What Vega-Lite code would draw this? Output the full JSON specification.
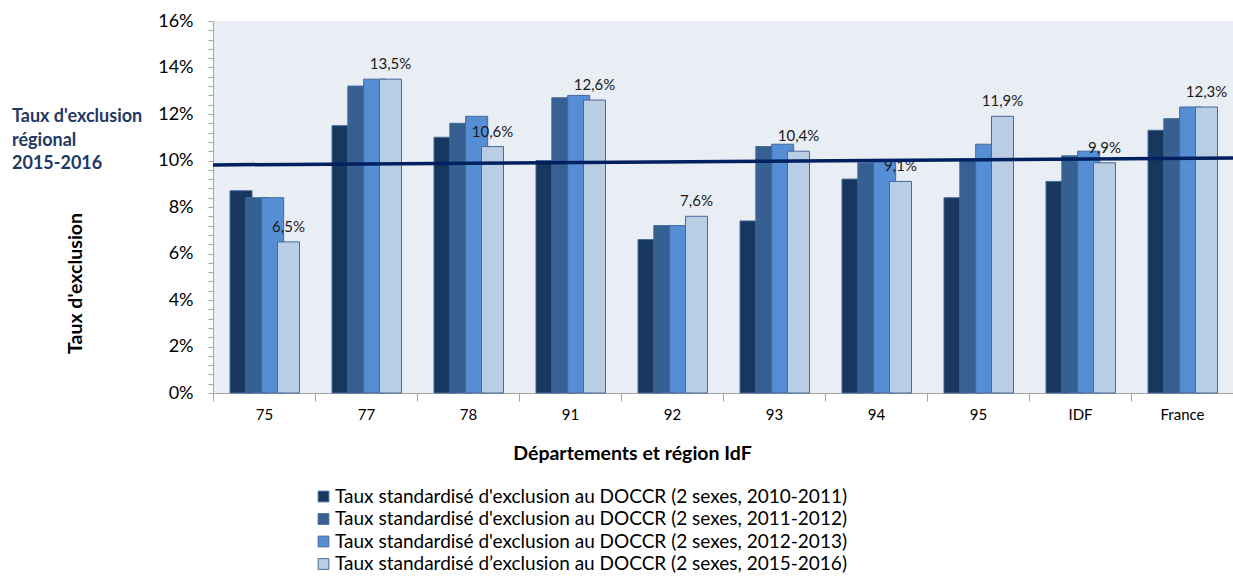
{
  "$schema": "https://vega.github.io/schema/vega-lite/v6.json",
  "autosize": {"type": "none"},
  "width": 1020,
  "height": 372,
  "padding": {"left": 213, "top": 21, "right": 0, "bottom": 191},
  "background": "#FFFFFF",
  "config": {
    "locale": {"number": {"decimal": ",", "thousands": " ", "grouping": [3], "currency": ["", " €"]}},
    "font": "Lato",
    "view": {"fill": "#E9EDF4", "stroke": null}
  },
  "title": {
    "text": ["Taux d'exclusion", "régional", "2015-2016"],
    "orient": "top",
    "anchor": "start",
    "frame": "group",
    "font": "Lato",
    "fontWeight": "bold",
    "fontSize": 18,
    "color": "#1F3864",
    "lineHeight": 23.5,
    "dx": -201,
    "dy": 161,
    "offset": 0
  },
  "datasets": {
    "bars": [
      {"dept": "75", "serie": "Taux standardisé d'exclusion au DOCCR (2 sexes, 2010-2011)", "k": 1, "v": 0.087},
      {"dept": "77", "serie": "Taux standardisé d'exclusion au DOCCR (2 sexes, 2010-2011)", "k": 1, "v": 0.115},
      {"dept": "78", "serie": "Taux standardisé d'exclusion au DOCCR (2 sexes, 2010-2011)", "k": 1, "v": 0.110},
      {"dept": "91", "serie": "Taux standardisé d'exclusion au DOCCR (2 sexes, 2010-2011)", "k": 1, "v": 0.100},
      {"dept": "92", "serie": "Taux standardisé d'exclusion au DOCCR (2 sexes, 2010-2011)", "k": 1, "v": 0.066},
      {"dept": "93", "serie": "Taux standardisé d'exclusion au DOCCR (2 sexes, 2010-2011)", "k": 1, "v": 0.074},
      {"dept": "94", "serie": "Taux standardisé d'exclusion au DOCCR (2 sexes, 2010-2011)", "k": 1, "v": 0.092},
      {"dept": "95", "serie": "Taux standardisé d'exclusion au DOCCR (2 sexes, 2010-2011)", "k": 1, "v": 0.084},
      {"dept": "IDF", "serie": "Taux standardisé d'exclusion au DOCCR (2 sexes, 2010-2011)", "k": 1, "v": 0.091},
      {"dept": "France", "serie": "Taux standardisé d'exclusion au DOCCR (2 sexes, 2010-2011)", "k": 1, "v": 0.113},
      {"dept": "75", "serie": "Taux standardisé d'exclusion au DOCCR (2 sexes, 2011-2012)", "k": 2, "v": 0.084},
      {"dept": "77", "serie": "Taux standardisé d'exclusion au DOCCR (2 sexes, 2011-2012)", "k": 2, "v": 0.132},
      {"dept": "78", "serie": "Taux standardisé d'exclusion au DOCCR (2 sexes, 2011-2012)", "k": 2, "v": 0.116},
      {"dept": "91", "serie": "Taux standardisé d'exclusion au DOCCR (2 sexes, 2011-2012)", "k": 2, "v": 0.127},
      {"dept": "92", "serie": "Taux standardisé d'exclusion au DOCCR (2 sexes, 2011-2012)", "k": 2, "v": 0.072},
      {"dept": "93", "serie": "Taux standardisé d'exclusion au DOCCR (2 sexes, 2011-2012)", "k": 2, "v": 0.106},
      {"dept": "94", "serie": "Taux standardisé d'exclusion au DOCCR (2 sexes, 2011-2012)", "k": 2, "v": 0.099},
      {"dept": "95", "serie": "Taux standardisé d'exclusion au DOCCR (2 sexes, 2011-2012)", "k": 2, "v": 0.100},
      {"dept": "IDF", "serie": "Taux standardisé d'exclusion au DOCCR (2 sexes, 2011-2012)", "k": 2, "v": 0.102},
      {"dept": "France", "serie": "Taux standardisé d'exclusion au DOCCR (2 sexes, 2011-2012)", "k": 2, "v": 0.118},
      {"dept": "75", "serie": "Taux standardisé d'exclusion au DOCCR (2 sexes, 2012-2013)", "k": 3, "v": 0.084},
      {"dept": "77", "serie": "Taux standardisé d'exclusion au DOCCR (2 sexes, 2012-2013)", "k": 3, "v": 0.135},
      {"dept": "78", "serie": "Taux standardisé d'exclusion au DOCCR (2 sexes, 2012-2013)", "k": 3, "v": 0.119},
      {"dept": "91", "serie": "Taux standardisé d'exclusion au DOCCR (2 sexes, 2012-2013)", "k": 3, "v": 0.128},
      {"dept": "92", "serie": "Taux standardisé d'exclusion au DOCCR (2 sexes, 2012-2013)", "k": 3, "v": 0.072},
      {"dept": "93", "serie": "Taux standardisé d'exclusion au DOCCR (2 sexes, 2012-2013)", "k": 3, "v": 0.107},
      {"dept": "94", "serie": "Taux standardisé d'exclusion au DOCCR (2 sexes, 2012-2013)", "k": 3, "v": 0.100},
      {"dept": "95", "serie": "Taux standardisé d'exclusion au DOCCR (2 sexes, 2012-2013)", "k": 3, "v": 0.107},
      {"dept": "IDF", "serie": "Taux standardisé d'exclusion au DOCCR (2 sexes, 2012-2013)", "k": 3, "v": 0.104},
      {"dept": "France", "serie": "Taux standardisé d'exclusion au DOCCR (2 sexes, 2012-2013)", "k": 3, "v": 0.123},
      {"dept": "75", "serie": "Taux standardisé d’exclusion au DOCCR (2 sexes, 2015-2016)", "k": 4, "v": 0.065},
      {"dept": "77", "serie": "Taux standardisé d’exclusion au DOCCR (2 sexes, 2015-2016)", "k": 4, "v": 0.135},
      {"dept": "78", "serie": "Taux standardisé d’exclusion au DOCCR (2 sexes, 2015-2016)", "k": 4, "v": 0.106},
      {"dept": "91", "serie": "Taux standardisé d’exclusion au DOCCR (2 sexes, 2015-2016)", "k": 4, "v": 0.126},
      {"dept": "92", "serie": "Taux standardisé d’exclusion au DOCCR (2 sexes, 2015-2016)", "k": 4, "v": 0.076},
      {"dept": "93", "serie": "Taux standardisé d’exclusion au DOCCR (2 sexes, 2015-2016)", "k": 4, "v": 0.104},
      {"dept": "94", "serie": "Taux standardisé d’exclusion au DOCCR (2 sexes, 2015-2016)", "k": 4, "v": 0.091},
      {"dept": "95", "serie": "Taux standardisé d’exclusion au DOCCR (2 sexes, 2015-2016)", "k": 4, "v": 0.119},
      {"dept": "IDF", "serie": "Taux standardisé d’exclusion au DOCCR (2 sexes, 2015-2016)", "k": 4, "v": 0.099},
      {"dept": "France", "serie": "Taux standardisé d’exclusion au DOCCR (2 sexes, 2015-2016)", "k": 4, "v": 0.123}
    ],
    "regional": [
      {"t": 0, "v": 0.0981},
      {"t": 1, "v": 0.1011}
    ]
  },
  "encoding": {
    "y": {
      "field": "v", "type": "quantitative",
      "scale": {"domain": [0, 0.16], "nice": false},
      "axis": {
        "title": "Taux d'exclusion",
        "values": [0,0.004,0.008,0.012,0.016,0.02,0.024,0.028,0.032,0.036,0.04,0.044,0.048,0.052,0.056,0.06,0.064,0.068,0.072,0.076,0.08,0.084,0.088,0.092,0.096,0.1,0.104,0.108,0.112,0.116,0.12,0.124,0.128,0.132,0.136,0.14,0.144,0.148,0.152,0.156,0.16],
        "format": ".0%",
        "labelExpr": "abs(datum.value * 50 - round(datum.value * 50)) < 0.001 ? datum.label : ''",
        "labelOverlap": false,
        "labelFont": "Lato", "labelFontSize": 18, "labelColor": "#000000",
        "labelPadding": 15,
        "tickSize": 5, "tickColor": "#A6A6A6", "domainColor": "#A6A6A6",
        "grid": false,
        "titleFont": "Lato", "titleFontSize": 19.5, "titleFontWeight": "bold", "titleColor": "#000000",
        "titleX": -138, "titleY": 262, "titleAngle": -90, "titleAlign": "center", "titleBaseline": "middle"
      }
    }
  },
  "layer": [
    {
      "data": {"name": "bars"},
      "encoding": {
        "x": {
          "field": "dept", "type": "nominal", "sort": null,
          "scale": {"paddingInner": 0, "paddingOuter": 0},
          "axis": {
            "title": "Départements et région IdF",
            "labelAngle": 0,
            "labelFont": "Lato", "labelFontSize": 15, "labelColor": "#000000",
            "labelPadding": 6,
            "tickBand": "extent", "tickSize": 8, "tickColor": "#A6A6A6",
            "domainColor": "#A6A6A6",
            "titleFont": "Lato", "titleFontSize": 19.5, "titleFontWeight": "bold", "titleColor": "#000000",
            "titleX": 419, "titleY": 60, "titleBaseline": "middle"
          }
        },
        "xOffset": {"field": "k", "type": "ordinal", "scale": {"type": "point", "padding": 0, "range": [28, 75.5]}}
      },
      "layer": [
        {
          "mark": {"type": "bar", "width": 22, "stroke": "#46699A", "strokeWidth": 1},
          "encoding": {
            "color": {
              "field": "serie", "type": "nominal",
              "scale": {
                "domain": [
                  "Taux standardisé d'exclusion au DOCCR (2 sexes, 2010-2011)",
                  "Taux standardisé d'exclusion au DOCCR (2 sexes, 2011-2012)",
                  "Taux standardisé d'exclusion au DOCCR (2 sexes, 2012-2013)",
                  "Taux standardisé d’exclusion au DOCCR (2 sexes, 2015-2016)"
                ],
                "range": ["#17375E", "#376092", "#558ED5", "#B9CDE5"]
              },
              "legend": {
                "title": null,
                "orient": "none",
                "legendX": 101,
                "legendY": 466,
                "direction": "vertical",
                "symbolType": "square",
                "symbolSize": 115,
                "symbolStrokeColor": "#46699A",
                "symbolStrokeWidth": 1,
                "labelFont": "Lato",
                "labelFontSize": 19,
                "labelColor": "#000000",
                "labelLimit": 0,
                "labelOffset": 2,
                "rowPadding": 2.5
              }
            }
          }
        },
        {
          "transform": [{"filter": "datum.k == 4"}],
          "mark": {"type": "text", "font": "Lato", "fontSize": 15, "color": "#1A1A1A", "baseline": "bottom", "dy": -7},
          "encoding": {
            "text": {"field": "v", "type": "quantitative", "format": ".1%"}
          }
        }
      ]
    },
    {
      "data": {"name": "regional"},
      "mark": {"type": "line", "color": "#002060", "strokeWidth": 3.5},
      "encoding": {
        "x": {"field": "t", "type": "quantitative", "scale": {"domain": [0, 1], "nice": false, "zero": false}, "axis": null}
      }
    }
  ],
  "resolve": {"scale": {"x": "independent"}}
}
